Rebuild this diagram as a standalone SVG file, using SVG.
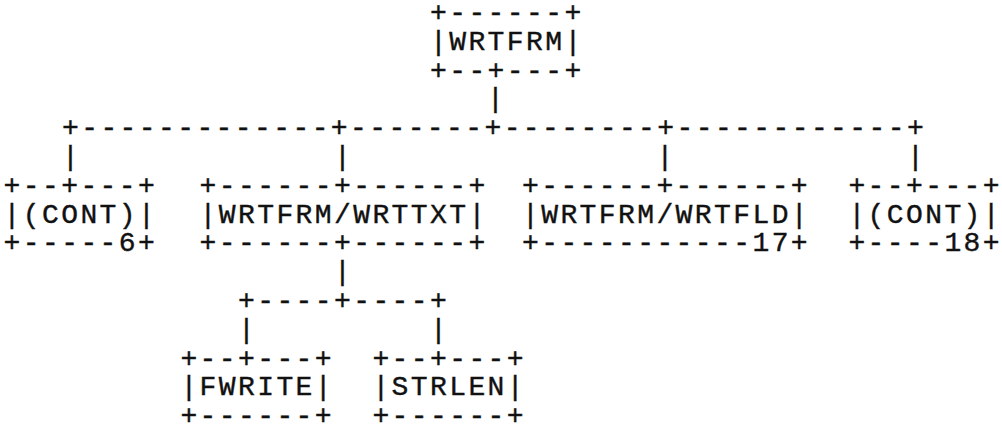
<svg xmlns="http://www.w3.org/2000/svg" width="1002" height="426" viewBox="0 0 1002 426">
<style>
text{font-family:"Liberation Mono","Courier New",monospace;font-size:28px;letter-spacing:2.4px;fill:#111;stroke:#111;stroke-width:0.4px;white-space:pre}
</style>
<rect width="1002" height="426" fill="#fff"/>
<g id="connectors">
<text x="487" y="107.4">|</text>
<text x="62" y="136.2">+-------------+-------+--------+------------+</text>
<text x="62" y="165">|</text>
<text x="334" y="165">|</text>
<text x="656.4" y="165">|</text>
<text x="907" y="165">|</text>
<text x="334" y="280.2">|</text>
<text x="238" y="309">+----+----+</text>
<text x="238" y="337.8">|</text>
<text x="430" y="337.8">|</text>
</g>
<g id="node-wrtfrm">
<text x="430" y="21">+------+</text>
<text x="430" y="49.8">|WRTFRM|</text>
<text x="430" y="78.6">+--+---+</text>
</g>
<g id="node-cont-6">
<text x="3.6" y="193.8">+--+---+</text>
<text x="3.6" y="222.6">|(CONT)|</text>
<text x="3.6" y="251.4">+-----6+</text>
</g>
<g id="node-wrttxt">
<text x="199.6" y="193.8">+------+------+</text>
<text x="199.6" y="222.6">|WRTFRM/WRTTXT|</text>
<text x="199.6" y="251.4">+------+------+</text>
</g>
<g id="node-wrtfld">
<text x="522" y="193.8">+------+------+</text>
<text x="522" y="222.6">|WRTFRM/WRTFLD|</text>
<text x="522" y="251.4">+-----------17+</text>
</g>
<g id="node-cont-18">
<text x="848.4" y="193.8">+--+---+</text>
<text x="848.4" y="222.6">|(CONT)|</text>
<text x="848.4" y="251.4">+----18+</text>
</g>
<g id="node-fwrite">
<text x="180.4" y="366.6">+--+---+</text>
<text x="180.4" y="395.4">|FWRITE|</text>
<text x="180.4" y="424.2">+------+</text>
</g>
<g id="node-strlen">
<text x="372.4" y="366.6">+--+---+</text>
<text x="372.4" y="395.4">|STRLEN|</text>
<text x="372.4" y="424.2">+------+</text>
</g>
</svg>
